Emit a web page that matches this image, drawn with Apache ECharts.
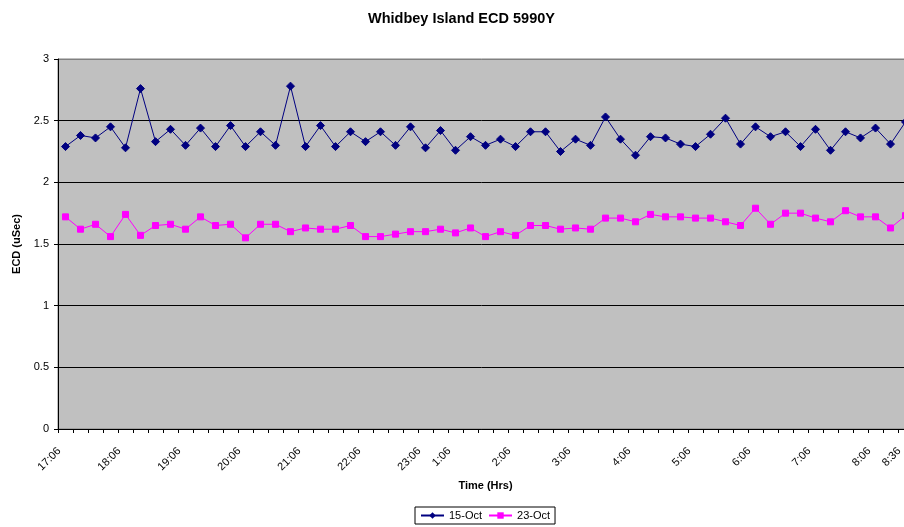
<!DOCTYPE html>
<html>
<head>
<meta charset="utf-8">
<script src="https://cdn.jsdelivr.net/npm/echarts@6/dist/echarts.min.js"></script>
<style>
  html, body { margin: 0; padding: 0; background: #fff; }
  #chart { width: 904px; height: 527px; }
</style>
</head>
<body>
<div id="chart"></div>
<script>
// Sample slots (15-minute spacing); only some slots carry a time label.
const timeLabels = [
  '17:06', '', '', '', '18:06', '', '', '', '19:06', '', '', '', '20:06', '', '', '',
  '21:06', '', '', '', '22:06', '', '', '', '23:06', '', '1:06', '', '', '', '2:06', '',
  '', '', '3:06', '', '', '', '4:06', '', '', '', '5:06', '', '', '', '6:06', '', '',
  '', '7:06', '', '', '', '8:06', '', '8:36'
];

// ECD readings in microseconds
const oct15 = [
  2.29, 2.38, 2.36, 2.45, 2.28, 2.76, 2.33, 2.43, 2.30, 2.44, 2.29, 2.46, 2.29, 2.41, 2.30, 2.78, 2.29, 2.46, 2.29,
  2.41, 2.33, 2.41, 2.30, 2.45, 2.28, 2.42, 2.26, 2.37, 2.30, 2.35, 2.29, 2.41, 2.41, 2.25, 2.35, 2.30, 2.53, 2.35,
  2.22, 2.37, 2.36, 2.31, 2.29, 2.39, 2.52, 2.31, 2.45, 2.37, 2.41, 2.29, 2.43, 2.26, 2.41, 2.36, 2.44, 2.31, 2.49
];
const oct23 = [
  1.72, 1.62, 1.66, 1.56, 1.74, 1.57, 1.65, 1.66, 1.62, 1.72, 1.65, 1.66, 1.55, 1.66, 1.66, 1.60, 1.63, 1.62, 1.62,
  1.65, 1.56, 1.56, 1.58, 1.60, 1.60, 1.62, 1.59, 1.63, 1.56, 1.60, 1.57, 1.65, 1.65, 1.62, 1.63, 1.62, 1.71, 1.71,
  1.68, 1.74, 1.72, 1.72, 1.71, 1.71, 1.68, 1.65, 1.79, 1.66, 1.75, 1.75, 1.71, 1.68, 1.77, 1.72, 1.72, 1.63, 1.73
];

const seriesNames = ['15-Oct', '23-Oct'];
const yTicks = { min: 0, max: 3, step: 0.5 };

const FONT = '"Liberation Sans", Arial, sans-serif';
const slots = timeLabels.map((_, i) => 'slot' + i);

const chart = echarts.init(document.getElementById('chart'), null, { renderer: 'canvas' });

chart.setOption({
  animation: false,
  backgroundColor: '#ffffff',
  textStyle: { fontFamily: FONT, color: '#000' },
  title: {
    text: 'Whidbey Island ECD 5990Y',
    left: 363,
    top: 6,
    textStyle: { fontFamily: FONT, fontSize: 14.5, fontWeight: 'bold', color: '#000' }
  },
  legend: {
    data: seriesNames,
    left: 415,
    top: 507,
    padding: [3, 5, 3, 5],
    itemGap: 6,
    itemWidth: 23,
    itemHeight: 8,
    borderColor: '#000',
    borderWidth: 1,
    textStyle: { fontFamily: FONT, fontSize: 11, color: '#000' }
  },
  grid: {
    left: 58,
    top: 59,
    width: 855,
    height: 370,
    outerBoundsMode: 'none',
    containLabel: false,
    show: true,
    backgroundColor: '#c0c0c0',
    borderColor: '#808080',
    borderWidth: 1
  },
  xAxis: {
    type: 'category',
    data: slots,
    boundaryGap: true,
    name: 'Time (Hrs)',
    nameLocation: 'middle',
    nameGap: 51,
    nameTextStyle: { fontFamily: FONT, fontSize: 11, fontWeight: 'bold', color: '#000' },
    axisLine: { lineStyle: { color: '#000', width: 1 } },
    axisTick: { show: true, interval: 0, length: 4, lineStyle: { color: '#000' } },
    axisLabel: {
      interval: 0,
      rotate: 45,
      margin: 14,
      padding: [0, 9, 0, 0],
      hideOverlap: false,
      fontFamily: FONT,
      fontSize: 11,
      color: '#000',
      formatter: (v, idx) => timeLabels[idx]
    },
    splitLine: { show: false }
  },
  yAxis: {
    type: 'value',
    min: yTicks.min,
    max: yTicks.max,
    interval: yTicks.step,
    name: 'ECD (uSec)',
    nameLocation: 'middle',
    nameRotate: 90,
    nameGap: 36,
    nameTextStyle: { fontFamily: FONT, fontSize: 11, fontWeight: 'bold', color: '#000' },
    axisLine: { show: true, lineStyle: { color: '#000', width: 1 } },
    axisTick: { show: true, length: 4, lineStyle: { color: '#000' } },
    axisLabel: { margin: 9, fontFamily: FONT, fontSize: 11, color: '#000' },
    splitLine: {
      show: true,
      lineStyle: { color: ['#000', '#000', '#000', '#000', '#000', '#000', '#808080'], width: 1 }
    }
  },
  series: [
    {
      name: seriesNames[0],
      type: 'line',
      data: oct15,
      symbol: 'diamond',
      symbolSize: 8,
      showAllSymbol: true,
      clip: false,
      lineStyle: { color: '#000080', width: 1 },
      itemStyle: { color: '#000080', borderColor: '#000080' },
      emphasis: { disabled: true }
    },
    {
      name: seriesNames[1],
      type: 'line',
      data: oct23,
      symbol: 'rect',
      symbolSize: 6,
      showAllSymbol: true,
      clip: false,
      lineStyle: { color: '#ff00ff', width: 1 },
      itemStyle: { color: '#ff00ff', borderColor: '#ff00ff' },
      emphasis: { disabled: true }
    }
  ]
});
</script>
</body>
</html>
